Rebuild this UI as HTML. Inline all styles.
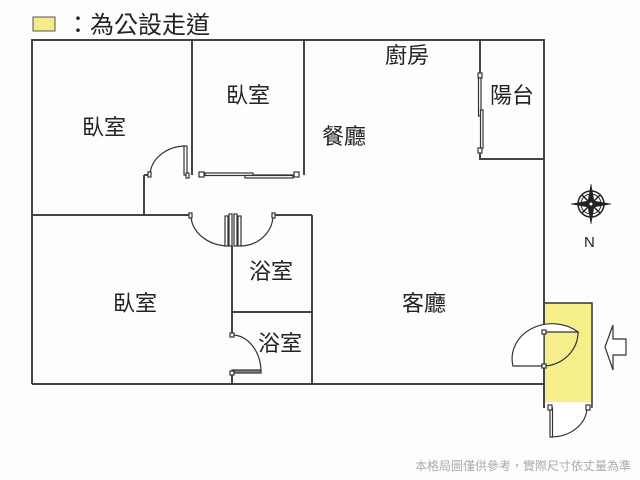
<!DOCTYPE html>
<html><head><meta charset="utf-8"><style>
html,body{margin:0;padding:0;background:#fff;width:640px;height:480px;overflow:hidden}
svg text{font-family:"Liberation Sans","Noto Sans CJK TC",sans-serif;fill:#222}
</style></head><body>
<svg width="640" height="480" viewBox="0 0 640 480" xmlns="http://www.w3.org/2000/svg">
<rect width="640" height="480" fill="#fdfdfd"/>
<!-- legend -->
<rect x="33" y="17" width="22" height="14" fill="#f2ec8a" stroke="#555" stroke-width="1"/>
<text x="66" y="33" font-size="24">：為公設走道</text>
<!-- yellow corridor -->
<rect x="544" y="303" width="48" height="104" fill="#f5ee8a" stroke="#333" stroke-width="1.5"/>
<rect x="545" y="402" width="46" height="6" fill="#fdfdfd"/>
<g stroke="#444" stroke-width="2" fill="none">
<polyline points="32,384 32,40 544,40 544,303"/>
<line x1="32" y1="384" x2="544" y2="384"/>
<line x1="544" y1="303" x2="544" y2="332"/>
<line x1="544" y1="366" x2="544" y2="408"/>
<line x1="192" y1="40" x2="192" y2="175"/>
<line x1="304" y1="40" x2="304" y2="175"/>
<line x1="480" y1="40" x2="480" y2="73"/>
<polyline points="480,153 480,159 544,159"/>
<line x1="32" y1="215" x2="190" y2="215"/>
<line x1="144" y1="215" x2="144" y2="175"/>
<line x1="144" y1="175" x2="149" y2="175"/>
<line x1="273" y1="215" x2="312" y2="215"/>
<line x1="312" y1="215" x2="312" y2="384"/>
<line x1="232" y1="246" x2="232" y2="335"/>
<line x1="232" y1="312" x2="312" y2="312"/>
<line x1="232" y1="372" x2="232" y2="384"/>
</g>
<g stroke="#333" stroke-width="1.2" fill="none">
<path d="M150,175 A36,30 0 0 1 185,146"/>
<rect x="184" y="146" width="3" height="29" fill="#fff"/>
<rect x="148" y="172" width="3" height="5" fill="#fff"/>
<rect x="186" y="173" width="3" height="5" fill="#fff"/>
<line x1="200" y1="175" x2="298" y2="175"/>
<rect x="205" y="173" width="48" height="2.5" fill="#fff"/>
<rect x="245" y="175.5" width="48" height="2.5" fill="#fff"/>
<rect x="199" y="172" width="5" height="5" fill="#fff"/>
<rect x="294" y="172" width="5" height="5" fill="#fff"/>
<rect x="478" y="73" width="4" height="5" fill="#fff"/>
<rect x="478" y="148" width="4" height="5" fill="#fff"/>
<rect x="478.5" y="78" width="2.5" height="38" fill="#fff"/>
<rect x="480.5" y="110" width="2.5" height="38" fill="#fff"/>
<path d="M191,215 A38,31 0 0 0 228,246"/>
<rect x="225" y="216" width="3" height="30" fill="#fff"/>
<rect x="229" y="214" width="3" height="32" fill="#fff"/>
<rect x="234" y="214" width="3" height="32" fill="#fff"/>
<rect x="238" y="216" width="3" height="30" fill="#fff"/>
<path d="M273,215 A33,31 0 0 1 240,246"/>
<rect x="189" y="213" width="3" height="5" fill="#fff"/>
<rect x="272" y="213" width="3" height="5" fill="#fff"/>
<path d="M232,335 A29,37 0 0 1 261,372"/>
<rect x="232" y="370" width="29" height="3" fill="#888"/>
<rect x="230" y="333" width="4" height="4" fill="#fff"/>
<rect x="230" y="371" width="4" height="4" fill="#fff"/>
<path d="M578,332 L544,332 L544,366 L513,366 A40,35 0 0 1 578,332 Z" fill="#fff"/>
<path d="M578,332 A36,34 0 0 1 544,366" />
<rect x="542" y="330" width="4" height="4" fill="#fff"/>
<rect x="542" y="364" width="4" height="4" fill="#fff"/>
<path d="M551,408 L551,437 A36,30 0 0 0 587,408" fill="#fff"/>
<rect x="550" y="408" width="2.5" height="29" fill="#fff"/>
<rect x="548" y="405" width="4" height="5" fill="#fff"/>
<rect x="586" y="405" width="4" height="5" fill="#fff"/>
<path d="M605,347 L613,325 L613,339 L626,339 L626,355 L613,355 L613,370 Z" fill="#fff"/>
</g>
<g transform="translate(591,204)" stroke="#222" fill="none">
<circle r="13" stroke-width="1.5"/>
<circle r="10" stroke-width="1"/>
<path d="M0,-20 L3,-3 L20,0 L3,3 L0,20 L-3,3 L-20,0 L-3,-3 Z" fill="#222" stroke-width="0.5"/>
<path d="M-9,-9 L0,0 M9,-9 L0,0 M-9,9 L0,0 M9,9 L0,0" stroke-width="1.5"/>
<circle r="2" fill="#fff"/>
</g>
<text x="584" y="247" font-size="15">N</text>
<g font-size="22">
<text x="82" y="135">臥室</text>
<text x="226" y="103">臥室</text>
<text x="385" y="63">廚房</text>
<text x="322" y="144">餐廳</text>
<text x="490" y="103">陽台</text>
<text x="113" y="311">臥室</text>
<text x="249" y="279">浴室</text>
<text x="258" y="351">浴室</text>
<text x="402" y="311">客廳</text>
</g>
<text x="415" y="470" font-size="12" style="fill:#aaa">本格局圖僅供參考，實際尺寸依丈量為準</text>
</svg>
</body></html>
